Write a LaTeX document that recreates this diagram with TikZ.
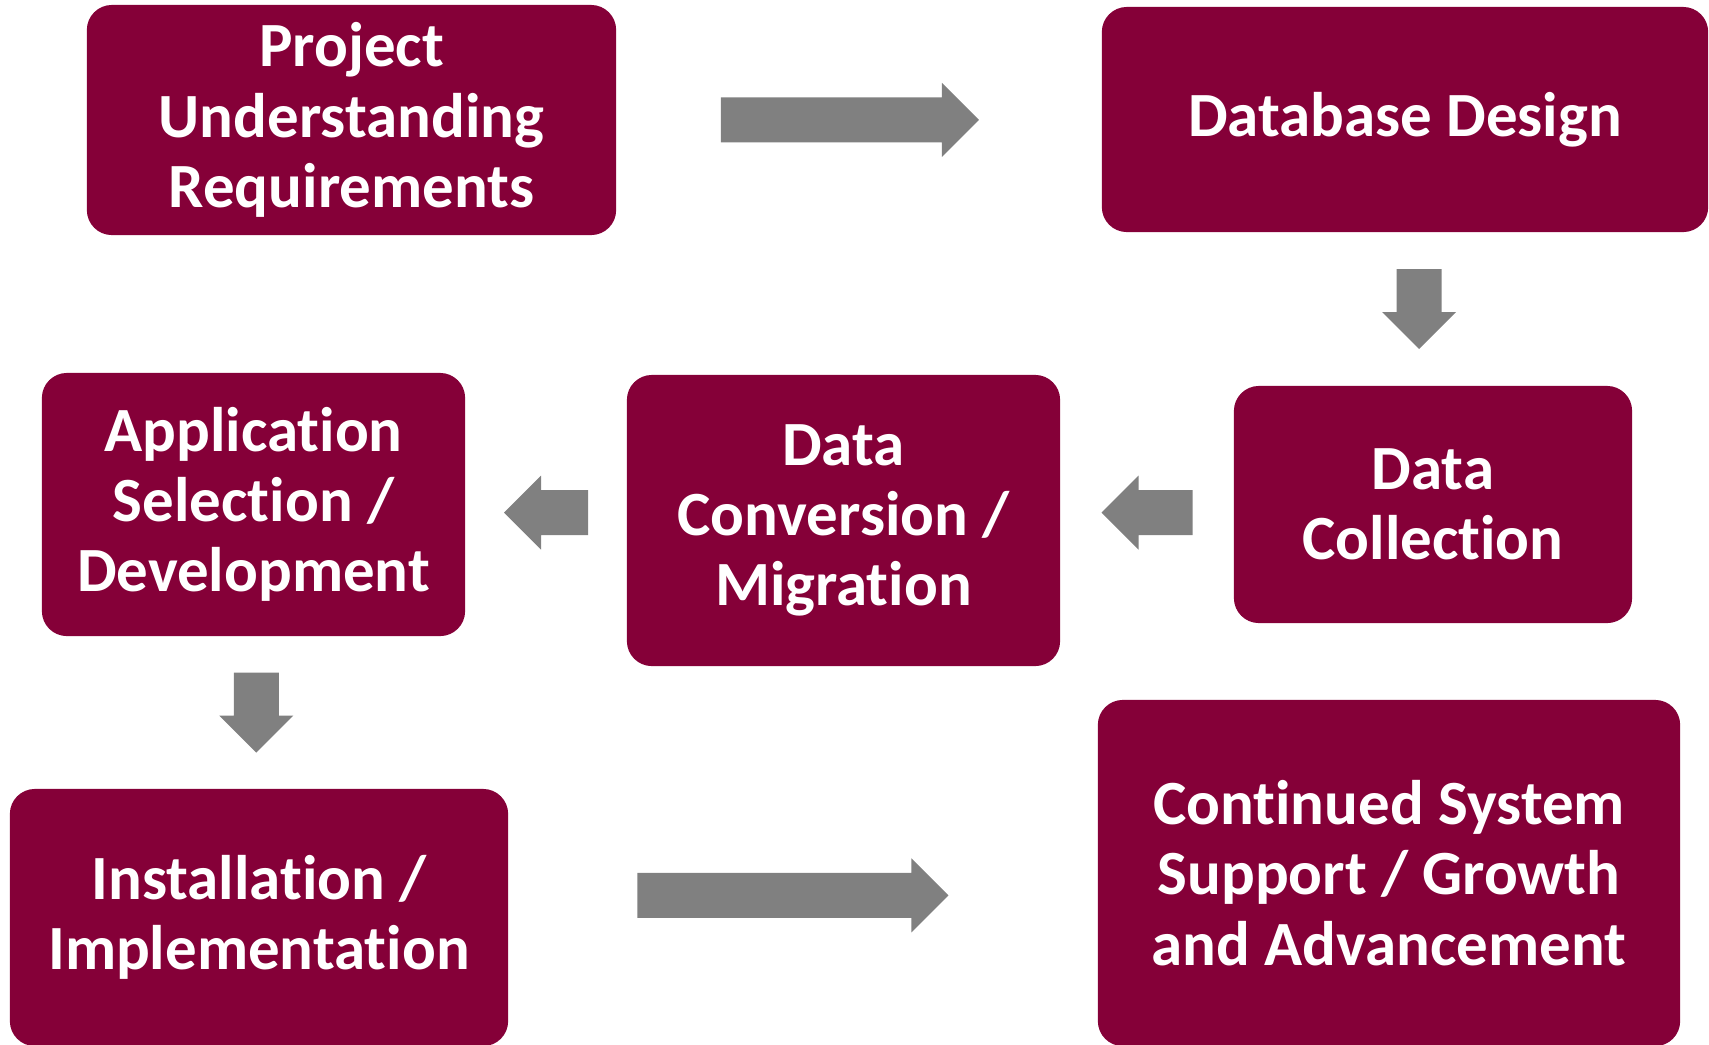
\documentclass[tikz,border=0pt]{standalone}
\usepackage{fontspec}
\setmainfont{Carlito}[RawFeature=-liga]
\usetikzlibrary{calc}
\definecolor{boxred}{HTML}{850038}
\definecolor{arrowgray}{HTML}{808080}
% block arrow centred between two anchors: [extra], from, to, angle, length
\newcommand{\flowarrow}[5][]{%
  \fill[arrowgray,shift={($(#2)!.5!(#3)$)},rotate=#4,#1]
    (-#5/2,-22.5) -- (#5/2-37,-22.5) -- (#5/2-37,-37) -- (#5/2,0)
    -- (#5/2-37,37) -- (#5/2-37,22.5) -- (-#5/2,22.5) -- cycle;}

\begin{document}
\begin{tikzpicture}[x=0.01cm,y=-0.01cm,
  stage/.style={fill=boxred,text=white,rounded corners=0.25cm,align=center,
    inner sep=0pt,font=\bfseries\fontsize{17.9}{20}\selectfont}]
  \useasboundingbox (0,0) rectangle (1709,1044);
  \clip (0,0) rectangle (1709,1044);

  \node[stage,minimum width=5.29cm,minimum height=2.30cm] (proj) at (351.5,120) {Project\\Understanding\\Requirements};
  \node[stage,minimum width=6.06cm,minimum height=2.25cm] (design) at (1405,119.5) {Database Design};
  \node[stage,minimum width=3.98cm,minimum height=2.37cm] (collect) at (1433,504.5) {Data\\Collection};
  \node[stage,minimum width=4.33cm,minimum height=2.91cm] (convert) at (843.5,520.5) {Data\\Conversion /\\Migration};
  \node[stage,minimum width=4.23cm,minimum height=2.63cm] (app) at (253.5,504.5) {Application\\Selection /\\Development};
  \node[stage,minimum width=4.98cm,minimum height=2.57cm] (install) at (259,917.5) {Installation /\\Implementation};
  \node[stage,minimum width=5.82cm,minimum height=3.46cm] (support) at (1389,873) {Continued System\\Support / Growth\\and Advancement};

  \flowarrow[xshift=-0.09cm]{proj.east}{design.west}{0}{258}
  \flowarrow{design.south}{collect.north}{-90}{80}
  \flowarrow{collect.west}{convert.east}{180}{91}
  \flowarrow{convert.west}{app.east}{180}{84}
  \flowarrow{app.south}{install.north}{-90}{80}
  \flowarrow[xshift=-0.1cm]{install.east}{support.west}{0}{311}
\end{tikzpicture}
\end{document}
